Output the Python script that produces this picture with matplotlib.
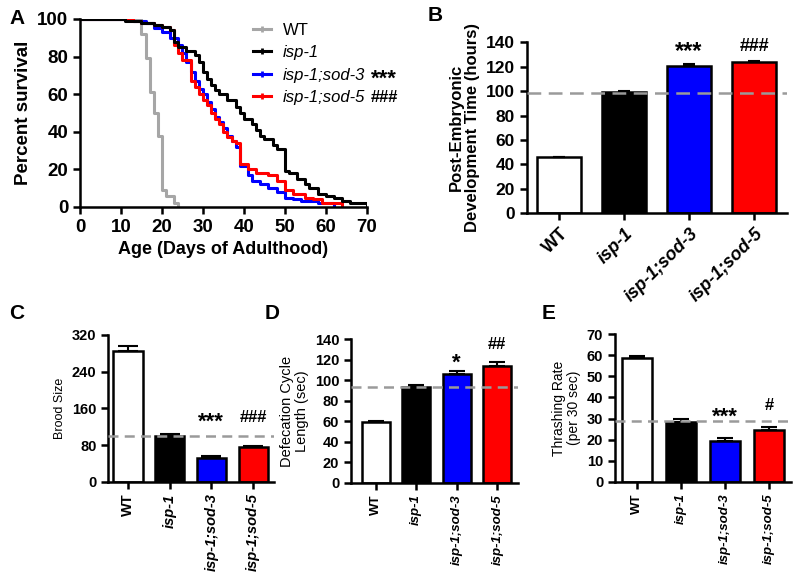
import matplotlib
matplotlib.use('Agg')
import matplotlib.pyplot as plt

plt.rcParams['font.family'] = ['Liberation Sans', 'DejaVu Sans']

# ---- Panel A: survival curves (step, where='post')
wt_days = [0, 15, 16, 17, 18, 19, 20, 21, 23, 24]
wt_surv = [100, 92, 79, 61, 50, 38, 9, 6, 2, 0]

isp1_days = [0, 11, 15, 18, 20, 22, 23, 24, 26, 28, 29, 30, 31, 32, 33, 34, 36, 38, 39,
             40, 42, 43, 44, 45, 47, 48, 50, 51, 53, 55, 56, 58, 60, 62, 64, 66, 70]
isp1_surv = [100, 99, 98, 97, 96, 94, 88, 85, 83, 81, 77, 72, 68, 65, 62, 60, 57, 53, 50,
             47, 44, 41, 38, 36, 33, 31, 19, 18, 15, 12, 10, 7, 6, 5, 3, 2, 1]

sod3_days = [0, 13, 16, 18, 20, 22, 24, 25, 26, 27, 28, 29, 30, 31, 32, 33, 34, 35, 36,
             37, 38, 39, 41, 42, 44, 46, 48, 50, 52, 54, 58, 62]
sod3_surv = [100, 99, 98, 95, 93, 90, 86, 82, 77, 72, 67, 63, 60, 56, 52, 48, 45, 42, 38,
             35, 32, 22, 17, 14, 12, 10, 8, 5, 4, 3, 2, 0]

sod5_days = [0, 13, 15, 18, 20, 22, 23, 24, 25, 27, 28, 29, 30, 31, 32, 33, 34, 35, 36,
             37, 38, 39, 41, 43, 46, 48, 50, 52, 55, 57, 59, 64]
sod5_surv = [100, 99, 98, 97, 96, 94, 86, 82, 78, 67, 64, 60, 57, 54, 50, 47, 44, 40, 37,
             35, 34, 23, 20, 18, 17, 14, 9, 7, 5, 4, 2, 1]

# ---- Bar panels
groups = ['WT', 'isp-1', 'isp-1;sod-3', 'isp-1;sod-5']
bar_colors = ['white', 'black', '#0000FF', '#FF0000']

dev_time = [46, 99, 120.5, 124]
dev_err = [0.5, 0.8, 1.5, 0.8]
dev_marks = ['', '', '***', '###']

brood = [285, 100, 52, 75]
brood_err = [12, 5, 4, 3]
brood_marks = ['', '', '***', '###']

defec = [59.5, 93, 106.5, 114]
defec_err = [0.5, 2, 3, 4]
defec_marks = ['', '', '*', '##']

thrash = [58.7, 28.5, 19.5, 24.5]
thrash_err = [0.8, 1.2, 1.3, 1.3]
thrash_marks = ['', '', '***', '#']

gray = '#A6A6A6'
dash_gray = '#9A9A9A'

fig = plt.figure(figsize=(8, 5.74), dpi=100)


def style_axes(ax, lw=1.8):
    for s in ['top', 'right']:
        ax.spines[s].set_visible(False)
    for s in ['left', 'bottom']:
        ax.spines[s].set_linewidth(lw)
    ax.tick_params(width=lw, length=5, direction='out')


def bar_panel(ax, values, errs, ref, ylim, yticks, ylabel, marks, mark_y, opts):
    x = list(range(len(values)))
    ax.bar(x, values, width=opts['width'], color=bar_colors, edgecolor='black',
           linewidth=1.8, zorder=2)
    ax.errorbar(x, values, yerr=[[0] * len(errs), errs], fmt='none', ecolor='black',
                elinewidth=1.5, capsize=opts['cap'], capthick=1.5, zorder=3)
    ax.axhline(ref, color=dash_gray, lw=1.8, ls=(0, opts['dash']), zorder=4)
    ax.set_xlim(*opts['xlim'])
    ax.set_ylim(*ylim)
    ax.set_yticks(yticks)
    ax.set_xticks(x)
    style_axes(ax)
    for lbl in ax.get_yticklabels():
        lbl.set_fontweight('bold')
        lbl.set_fontsize(opts['ytick'])
    if opts['rot'] == 45:
        ax.set_xticklabels(groups, rotation=45, ha='right', rotation_mode='anchor',
                           fontsize=opts['xtick'], fontweight='bold')
    else:
        ax.set_xticklabels(groups, rotation=90, fontsize=opts['xtick'], fontweight='bold')
    for i, lbl in enumerate(ax.get_xticklabels()):
        if i > 0:
            lbl.set_style('italic')
    ax.set_ylabel(ylabel, fontsize=opts['ylab'],
                  fontweight='bold' if opts['ylab_bold'] else 'normal', linespacing=1.1)
    for i, m in enumerate(marks):
        if m:
            # asterisks are drawn larger, as in the original figure
            fs = opts['star'] if m.startswith('*') else opts['mark']
            ax.text(i, mark_y[i], m, ha='center', va='baseline', fontsize=fs,
                    fontweight='bold')


# ---- Panel A
axA = fig.add_axes([0.1, 0.6394, 0.3584, 0.3275])
axA.step(wt_days, wt_surv, where='post', color=gray, lw=2.2, label='WT')
axA.step(isp1_days, isp1_surv, where='post', color='black', lw=2.2, label='isp-1', zorder=3)
axA.step(sod3_days, sod3_surv, where='post', color='#0000FF', lw=2.2, label='isp-1;sod-3')
axA.step(sod5_days, sod5_surv, where='post', color='#FF0000', lw=2.2, label='isp-1;sod-5')
axA.set_xlim(0, 70)
axA.set_ylim(0, 100)
axA.set_xticks(range(0, 71, 10))
axA.set_yticks(range(0, 101, 20))
style_axes(axA)
for lbl in axA.get_xticklabels() + axA.get_yticklabels():
    lbl.set_fontweight('bold')
    lbl.set_fontsize(13.5)
axA.set_xlabel('Age (Days of Adulthood)', fontsize=13, fontweight='bold')
axA.set_ylabel('Percent survival', fontsize=13.5, fontweight='bold')
leg = axA.legend(loc='upper left', bbox_to_anchor=(0.551, 1.06), frameon=False,
                 fontsize=12, handlelength=1.1, labelspacing=0.45, handletextpad=0.7)
for i, t in enumerate(leg.get_texts()):
    if i > 0:
        t.set_style('italic')
for h in leg.legend_handles:
    h.set_marker('|')
    h.set_markersize(5)
    h.set_markeredgewidth(2)
texts = leg.get_texts()
axA.annotate('***', xy=(1, 0.5), xycoords=texts[2], xytext=(4, -3), textcoords='offset points',
             va='center', ha='left', fontsize=16, fontweight='bold', zorder=10)
axA.annotate('###', xy=(1, 0.5), xycoords=texts[3], xytext=(4, 0), textcoords='offset points',
             va='center', ha='left', fontsize=12, fontweight='bold', zorder=10)

# ---- Panel B
axB = fig.add_axes([0.6584, 0.6284, 0.3248, 0.2979])
bar_panel(axB, dev_time, dev_err, 98.5, (0, 140), range(0, 141, 20),
          'Post-Embryonic\nDevelopment Time (hours)', dev_marks, [0, 0, 127, 133],
          dict(width=0.68, xlim=(-0.5, 3.5), rot=45, ytick=12.5, xtick=13, ylab=12,
               ylab_bold=True, cap=4, dash=(5.5, 3), mark=13, star=17))

# ---- Panel C
axC = fig.add_axes([0.1354, 0.1608, 0.2071, 0.2556])
bar_panel(axC, brood, brood_err, 100, (0, 320), range(0, 321, 80),
          'Brood Size', brood_marks, [0, 0, 118, 131],
          dict(width=0.7, xlim=(-0.47, 3.5), rot=90, ytick=10.5, xtick=10.5, ylab=9,
               ylab_bold=False, cap=7, dash=(4, 2.5), mark=12, star=16))

# ---- Panel D
axD = fig.add_axes([0.4388, 0.1591, 0.2081, 0.2498])
bar_panel(axD, defec, defec_err, 93, (0, 140), range(0, 141, 20),
          'Defecation Cycle\nLength (sec)', defec_marks, [0, 0, 111, 131],
          dict(width=0.7, xlim=(-0.61, 3.5), rot=90, ytick=10.5, xtick=9.5, ylab=10.5,
               ylab_bold=False, cap=6, dash=(4, 2.5), mark=12, star=16))

# ---- Panel E
axE = fig.add_axes([0.7688, 0.1608, 0.22, 0.2568])
bar_panel(axE, thrash, thrash_err, 29, (0, 70), range(0, 71, 10),
          'Thrashing Rate\n(per 30 sec)', thrash_marks, [0, 0, 28, 34],
          dict(width=0.68, xlim=(-0.5, 3.5), rot=90, ytick=10.5, xtick=9.5, ylab=10,
               ylab_bold=False, cap=6, dash=(4, 2.5), mark=12, star=16))

# panel letters
for letter, (x, y) in zip('ABCDE', [(0.012, 0.968), (0.535, 0.973), (0.012, 0.454),
                                    (0.331, 0.454), (0.677, 0.454)]):
    fig.text(x, y, letter, fontsize=15, fontweight='bold', va='center')

fig.savefig('out.png', dpi=100)
